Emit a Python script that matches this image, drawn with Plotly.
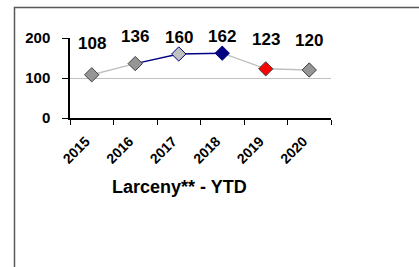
import plotly.graph_objects as go

years = ["2015", "2016", "2017", "2018", "2019", "2020"]
values = [108, 136, 160, 162, 123, 120]
labels = ["108", "136", "160", "162", "123", "120"]
title_text = "Larceny** - YTD"
y_ticks = [0, 100, 200]

# styling
seg_colors = ["#c0c0c0", "#000080", "#000080", "#c0c0c0", "#c0c0c0"]  # segment ending at point i+1
marker_fill = ["#969696", "#969696", "#c0c0c0", "#000080", "#ff0000", "#969696"]
marker_line = ["#404040", "#404040", "#000080", "#000080", "#404040", "#404040"]
label_shift = [31, 27, 17, 17, 29, 30]

W, H = 419, 267
L, R, T, B = 70, 88, 38, 149
pw, ph = W - L - R, H - T - B

fig = go.Figure()
for i in range(len(years) - 1):
    fig.add_trace(go.Scatter(
        x=years[i:i + 2], y=values[i:i + 2], mode="lines",
        line=dict(color=seg_colors[i], width=1.4), hoverinfo="skip", showlegend=False))
fig.add_trace(go.Scatter(
    x=years, y=values, mode="markers",
    marker=dict(symbol="diamond", size=11, color=marker_fill,
                line=dict(color=marker_line, width=1)),
    showlegend=False))

for idx, (v, lab, s) in enumerate(zip(values, labels, label_shift)):
    fig.add_annotation(x=idx, y=v, text=lab, showarrow=False, yshift=s,
                       font=dict(family="Liberation Sans", size=17, color="black", weight="bold"))

fig.add_annotation(x=(179 - L) / pw, y=(T + ph - 187) / ph, xref="paper", yref="paper",
                   xanchor="center", yanchor="middle",
                   text=title_text, showarrow=False,
                   font=dict(family="Liberation Sans", size=18, color="black", weight="bold"))

fig.add_shape(type="rect", xref="paper", yref="paper",
              x0=(14.5 - L) / pw, x1=1.5, y0=-2.5, y1=1 + (T - 7.5) / ph,
              line=dict(color="#595959", width=1.5))

fig.update_layout(
    width=W, height=H, margin=dict(l=L, r=R, t=T, b=B),
    paper_bgcolor="white", plot_bgcolor="white",
    font=dict(family="Liberation Sans", color="black"),
    xaxis=dict(type="category", range=[-0.5, 5.5], tickson="boundaries",
               showline=True, linecolor="black", linewidth=1.5,
               ticks="outside", ticklen=5, tickcolor="black", tickwidth=1,
               tickangle=-45, showgrid=False, zeroline=False,
               tickfont=dict(size=14, weight="bold"), ticklabelstandoff=8,
               ticklabelshift=-6),
    yaxis=dict(range=[0, 200], tickvals=y_ticks, showline=True, linecolor="black",
               linewidth=1.5, ticks="outside", ticklen=6, tickcolor="black",
               showgrid=True, gridcolor="#c0c0c0", gridwidth=1, zeroline=False,
               tickfont=dict(size=15, weight="bold"), ticklabelstandoff=9),
)

fig.write_html("out.html", config={"displayModeBar": False},
               post_script="document.body.style.margin='0';")
